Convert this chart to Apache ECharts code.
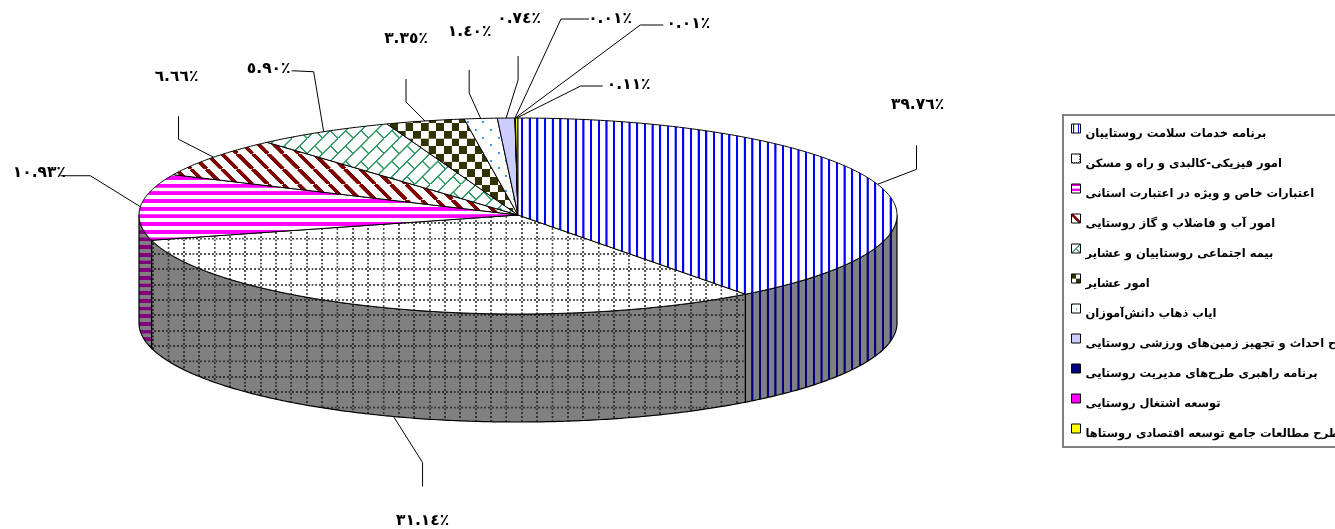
<!DOCTYPE html>
<html><head><meta charset="utf-8">
<style>html,body{margin:0;padding:0;background:#fff;overflow:hidden}#c{width:1335px;height:529px}</style>
<script src="https://cdn.jsdelivr.net/npm/echarts@6/dist/echarts.min.js"></script>
</head><body><div id="c"></div>
<script>
// ---- data ----
const categories = [
 'برنامه خدمات سلامت روستاییان',
 'امور فیزیکی-کالبدی و راه و مسکن',
 'اعتبارات خاص و ویژه در اعتبارت استانی',
 'امور آب و فاضلاب و گاز روستایی',
 'بیمه اجتماعی روستاییان و عشایر',
 'امور عشایر',
 'ایاب ذهاب دانش‌آموزان',
 'طرح احداث و تجهیز زمین‌های ورزشی روستایی',
 'برنامه راهبری طرح‌های مدیریت روستایی',
 'توسعه اشتغال روستایی',
 'طرح مطالعات جامع توسعه اقتصادی روستاها'
];
const shares = [39.76,31.14,10.93,6.66,5.90,3.35,1.40,0.74,0.01,0.01,0.11];

// ---- layout (separate from data) ----
const CX=518, CY=215, RX=379, RY_TOP=97, RY_BOT=99, DEPTH=108;
const leaderOffsets = [
 [39,-15,39,-39,40,-79],[29,46,29,70,29,104],[-50,-31,-80,-31,-101,-34],[-35,-18,-35,-41,-37,-80],
 [-10,-60,-32,-61,-55,-63],[-19,-19,-19,-42,-19,-82],[-11.5,-25.5,-11.5,-48.5,-11,-87],[12,-38,12,-62,13,-99],
 [46,-99,74,-99,95,-99],[125,-93,148,-93,173,-94],[64,-32,86,-32,112,-33]
];
const FONT='"DejaVu Sans"';
const UNIT=8, SCALE=1.92/UNIT;

function tile(bg, draw){
  const n=8*UNIT, cv=document.createElement('canvas'); cv.width=n; cv.height=n;
  const g=cv.getContext('2d'); g.fillStyle=bg; g.fillRect(0,0,n,n);
  g.save(); g.scale(UNIT,UNIT); draw(g); g.restore();
  return cv;
}
const rect=(g,c,x,y,w,h)=>{g.fillStyle=c;g.fillRect(x,y,w,h);};
const painters = [
 (g,c)=>{rect(g,c,1.45,0,1.1,8);rect(g,c,5.45,0,1.1,8);},
 (g,c)=>{for(let i=0;i<4;i++){rect(g,c,i*2,7,1,1);rect(g,c,7,i*2,1,1);}},
 (g,c)=>{rect(g,c,0,0,8,2);rect(g,c,0,4,8,2);},
 (g,c)=>{g.strokeStyle=c;g.lineWidth=2.0;for(let k=-8;k<=16;k+=8){g.beginPath();g.moveTo(k,0);g.lineTo(k+8,8);g.stroke();}},
 (g,c)=>{g.strokeStyle=c;g.lineWidth=.75;for(let k=0;k<=16;k+=8){g.beginPath();g.moveTo(k,0);g.lineTo(k-8,8);g.stroke();}
   g.beginPath();g.moveTo(4,4);g.lineTo(8,8);g.stroke();},
 (g,c)=>{rect(g,c,0,0,4,4);rect(g,c,4,4,4,4);},
 (g,c)=>{rect(g,c,0,0,1,1);rect(g,c,4,4,1,1);},
 null,null,null,null
];
const topColors=['#0000ff','#555555','#ff00ff','#800000','#339966','#333300','#3399ff','#ccccff','#000080','#ff00ff','#ffff00'];
const sideColors=['#000080','#333333','#800080','#400000','#1a4d33','#1a1a00','#1a4d80','#666680','#000040','#800080','#808000'];
const phases=[[3.6,0],[0.5,-6.24],[0,-0.6],[6.76,0],[0,0],[6.16,0.3],[-1.5,6.1]];
function fillFor(i,side){
  if(!painters[i]) return side?sideColors[i]:topColors[i];
  return {image:tile(side?'#808080':'#ffffff',g=>painters[i](g,side?sideColors[i]:topColors[i])),repeat:'repeat',
          x:phases[i][0],y:phases[i][1],scaleX:SCALE,scaleY:SCALE};
}
function legendFill(i){
  if(!painters[i]) return topColors[i];
  return {image:tile('#ffffff',g=>painters[i](g,topColors[i])),repeat:'repeat',scaleX:SCALE/1.7,scaleY:SCALE/1.7};
}
const topFills=shares.map((_,i)=>fillFor(i,false));
const sideFills=shares.map((_,i)=>fillFor(i,true));

const total=shares.reduce((a,b)=>a+b,0);
const ar=s=>s.replace(/[0-9]/g,d=>String.fromCharCode(0x660+ +d));
const pct=v=>ar(v.toFixed(2))+'٪';
const pt=(a,dy)=>{const c=Math.cos(a);return [CX+RX*Math.sin(a),CY-(c>0?RY_TOP:RY_BOT)*c+(dy||0)];};
function arc(a,b){const n=Math.max(2,Math.ceil(Math.abs(b-a)/0.01)),r=[];for(let k=0;k<=n;k++)r.push(pt(a+(b-a)*k/n));return r;}

function renderSlice(i){
  return function(){
    let before=0; for(let k=0;k<i;k++) before+=shares[k];
    const a=before/total*2*Math.PI, b=(before+shares[i])/total*2*Math.PI, m=(a+b)/2;
    const kids=[];
    const s0=Math.max(a,Math.PI/2), s1=Math.min(b,Math.PI*1.5);
    if(s1>s0){
      const up=arc(s0,s1), low=up.slice().reverse().map(p=>[p[0],p[1]+DEPTH]);
      kids.push({type:'polygon',shape:{points:up.concat(low)},style:{fill:sideFills[i],stroke:'#000',lineWidth:1.2}});
    }
    kids.push({type:'polygon',shape:{points:[[CX,CY]].concat(arc(a,b))},style:{fill:topFills[i],stroke:'#000',lineWidth:1}});
    const front=m>Math.PI/2&&m<Math.PI*1.5;
    const p=pt(m,front?DEPTH:0), o=leaderOffsets[i];
    kids.push({type:'polyline',shape:{points:[p,[p[0]+o[0],p[1]+o[1]],[p[0]+o[2],p[1]+o[3]]]},style:{fill:null,stroke:'#000',lineWidth:1}});
    kids.push({type:'text',x:p[0]+o[4],y:p[1]+o[5],style:{text:pct(shares[i]),font:'bold 15.5px '+FONT,fill:'#000',align:'center',verticalAlign:'middle'}});
    return {type:'group',children:kids};
  };
}
const series=categories.map((name,i)=>({
  type:'custom',name,coordinateSystem:'none',silent:true,animation:false,clip:false,
  z:i===0?3:2,
  data:[shares[i]],renderItem:renderSlice(i),
  itemStyle:{color:topFills[i],borderColor:'#000',borderWidth:1}
}));
const chart=echarts.init(document.getElementById('c'),null,{renderer:'canvas'});
chart.setOption({
  animation:false,backgroundColor:'#fff',
  graphic:[{type:'rect',z:0,silent:true,shape:{x:1063,y:115,width:400,height:332},
    style:{fill:'#fff',stroke:'#808080',lineWidth:2}}],
  legend:{orient:'vertical',left:1071,top:117,padding:0,itemGap:7,itemWidth:9,itemHeight:9,icon:'rect',
    selectedMode:false,z:5,
    data:categories.map((name,i)=>({name,itemStyle:{color:legendFill(i),borderColor:'#000',borderWidth:1}})),
    formatter:n=>'{a|'+n+'}',
    textStyle:{color:'#000',rich:{a:{color:'#000',fontFamily:FONT,fontWeight:'bold',fontSize:11.5,lineHeight:16,padding:[11,0,0,0]}}}},
  series
});
</script></body></html>
